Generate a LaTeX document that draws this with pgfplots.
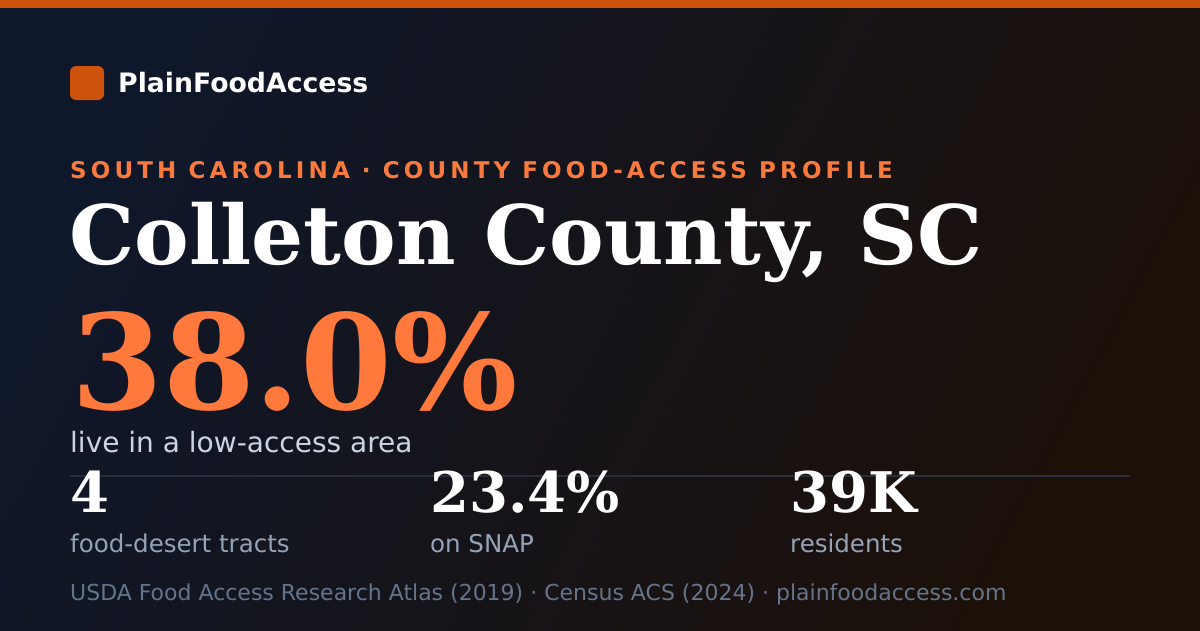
\documentclass[border=0pt]{standalone}
\usepackage{pgfplots}
\pgfplotsset{compat=1.18}
\usepackage{fontspec}
\setmainfont{DejaVu Sans}
\newfontfamily\serifb{DejaVu Serif}[BoldFont={* Bold}]
\newfontfamily\sansb{DejaVu Sans Bold}
\newfontfamily\sansls{DejaVu Sans Bold}[LetterSpace=18]
\definecolor{barorange}{RGB}{205,82,12}
\definecolor{hiorange}{RGB}{255,120,60}
\definecolor{subor}{RGB}{250,122,62}
\definecolor{lightgray}{RGB}{203,213,225}
\definecolor{labgray}{RGB}{148,163,184}
\definecolor{footgray}{RGB}{100,116,139}
\definecolor{divider}{RGB}{40,46,58}
\definecolor{bgTL}{RGB}{15,23,42}
\definecolor{bgMid}{RGB}{22,21,26}
\definecolor{bgBR}{RGB}{28,16,8}
\begin{document}
\begin{tikzpicture}
\begin{axis}[
  scale only axis, width=1200pt, height=630pt,
  xmin=0, xmax=1200, ymin=0, ymax=630, y dir=reverse,
  axis lines=none, clip=false,
]
\shade[left color=bgTL, middle color=bgMid, right color=bgBR, shading angle=62]
  (axis cs:0,0) rectangle (axis cs:1200,630);
\fill[barorange] (axis cs:0,0) rectangle (axis cs:1200,8);
\fill[barorange, rounded corners=6pt] (axis cs:70,66) rectangle (axis cs:104,100);
\node[anchor=base west, inner sep=0pt, text=white] at (axis cs:118,92)
  {\fontsize{26.7}{30}\sansb PlainFoodAccess};
\node[anchor=base west, inner sep=0pt, text=subor] at (axis cs:70,178)
  {\fontsize{23}{28}\sansls SOUTH CAROLINA · COUNTY FOOD-ACCESS PROFILE};
\node[anchor=base west, inner sep=0pt, text=white] at (axis cs:69,264)
  {\fontsize{82}{94}\serifb\bfseries Colleton County, SC};
\node[anchor=base west, inner sep=0pt, text=hiorange] at (axis cs:71,409)
  {\fontsize{132}{140}\serifb\bfseries 38.0\%};
\node[anchor=base west, inner sep=0pt, text=lightgray] at (axis cs:70,452)
  {\fontsize{28}{32}\selectfont live in a low-access area};
\draw[divider, line width=2pt] (axis cs:70,476) -- (axis cs:1130,476);
\node[anchor=base west, inner sep=0pt, text=white] at (axis cs:70,512)
  {\fontsize{56}{62}\serifb\bfseries 4};
\node[anchor=base west, inner sep=0pt, text=white] at (axis cs:430,512)
  {\fontsize{56}{62}\serifb\bfseries 23.4\%};
\node[anchor=base west, inner sep=0pt, text=white] at (axis cs:790,512)
  {\fontsize{56}{62}\serifb\bfseries 39K};
\node[anchor=base west, inner sep=0pt, text=labgray] at (axis cs:70,552)
  {\fontsize{24.5}{28}\selectfont food-desert tracts};
\node[anchor=base west, inner sep=0pt, text=labgray] at (axis cs:430,552)
  {\fontsize{24.5}{28}\selectfont on SNAP};
\node[anchor=base west, inner sep=0pt, text=labgray] at (axis cs:790,552)
  {\fontsize{24.5}{28}\selectfont residents};
\node[anchor=base west, inner sep=0pt, text=footgray] at (axis cs:70,600)
  {\fontsize{22}{26}\selectfont USDA Food Access Research Atlas (2019) · Census ACS (2024) · plainfoodaccess.com};
\end{axis}
\end{tikzpicture}
\end{document}
